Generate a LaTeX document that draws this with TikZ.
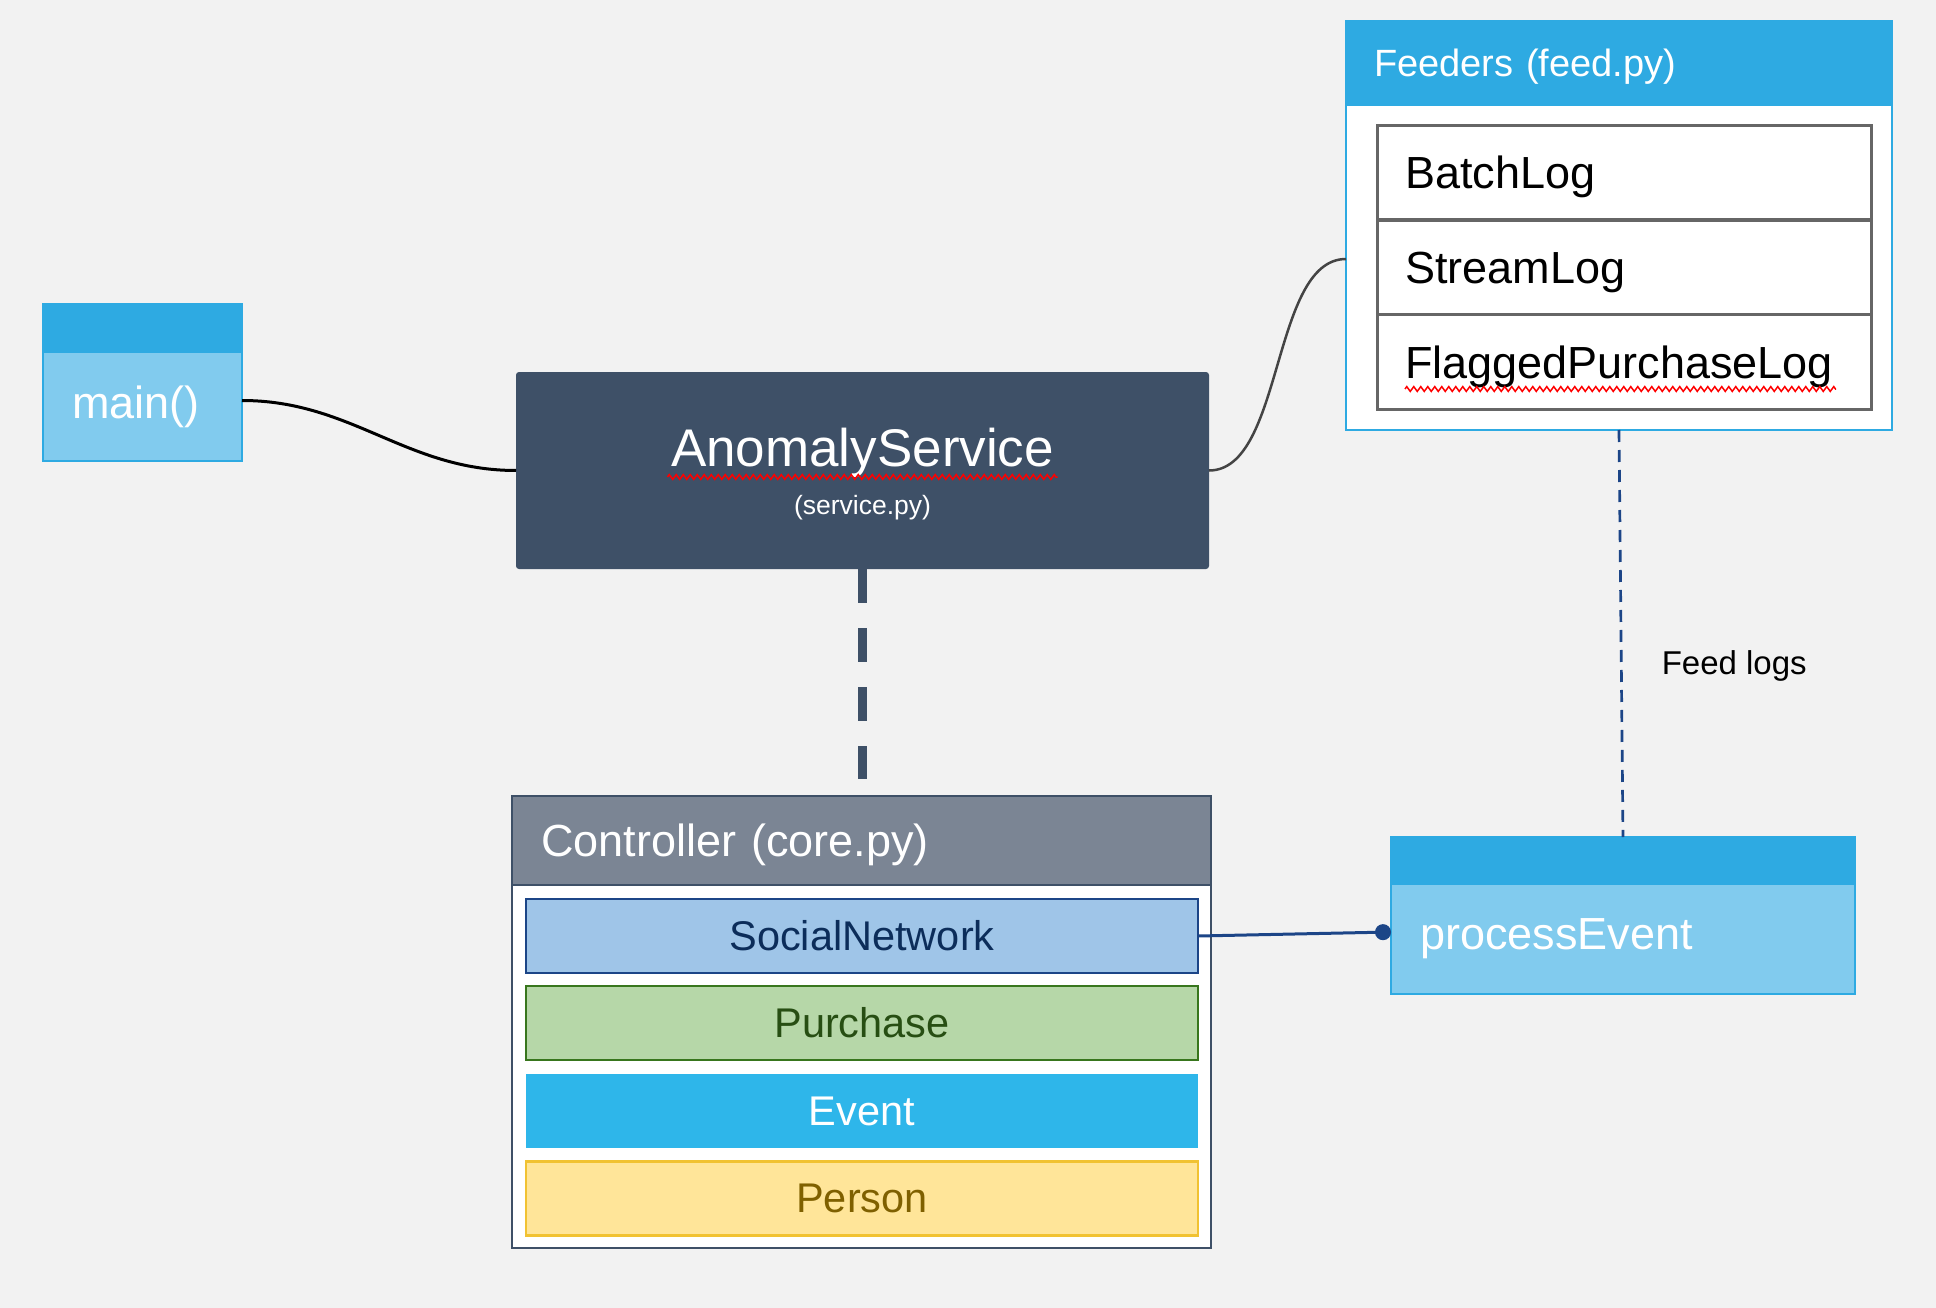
\documentclass[tikz,border=0pt]{standalone}
\usepackage{fontspec}
\setmainfont{Liberation Sans}
\usepackage{xcolor}
\definecolor{back_gray}{RGB}{242,242,242}
\definecolor{slate_blue}{RGB}{62,80,103}
\definecolor{head_gray}{RGB}{123,133,148}
\definecolor{sky_blue}{RGB}{46,170,226}
\definecolor{pale_blue}{RGB}{129,203,238}
\definecolor{event_blue}{RGB}{46,182,234}
\definecolor{soc_fill}{RGB}{159,197,232}
\definecolor{soc_line}{RGB}{28,69,135}
\definecolor{soc_text}{RGB}{12,45,90}
\definecolor{buy_fill}{RGB}{182,215,168}
\definecolor{buy_line}{RGB}{56,118,29}
\definecolor{buy_text}{RGB}{39,78,19}
\definecolor{person_fill}{RGB}{255,229,153}
\definecolor{person_line}{RGB}{241,194,50}
\definecolor{person_text}{RGB}{127,96,0}
\definecolor{row_gray}{RGB}{102,102,102}
\definecolor{curve_gray}{RGB}{68,68,68}
\usepackage{tikz}
\usetikzlibrary{arrows.meta,decorations.pathmorphing}

\tikzset{
  box/.style={rectangle, inner sep=0pt, outer sep=0pt},
  blue_head/.style={box, fill=sky_blue, draw=sky_blue, line width=2pt},
  blue_body/.style={box, fill=pale_blue, draw=sky_blue, line width=2pt, text=white, align=left, inner xsep=29pt, font=\fontsize{45}{54}\selectfont},
  svc_box/.style={box, fill=slate_blue, rounded corners=3pt},
  svc_title/.style={anchor=base, text=white, font=\fontsize{53}{60}\selectfont},
  svc_file/.style={anchor=base, text=white, font=\fontsize{26.5}{30}\selectfont},
  frame/.style={box, fill=white, line width=2.5pt},
  frame_head/.style={box, text=white, align=left, line width=2.5pt, text depth=0pt},
  log_row/.style={box, fill=white, draw=row_gray, line width=3pt, align=left, inner xsep=28pt, text width=438pt, minimum height=94.7pt, font=\fontsize{45}{54}\selectfont, text height=32pt, text depth=0pt},
  item/.style={box, minimum width=672pt, minimum height=74pt, line width=2.5pt, font=\fontsize{41.5}{50}\selectfont},
  spell/.style={draw=red, line width=1.5pt, decorate, decoration={zigzag, segment length=7pt, amplitude=2.4pt}},
  main_link/.style={draw=black, line width=3pt},
  feed_curve/.style={draw=curve_gray, line width=2.5pt},
  thick_dash/.style={draw=slate_blue, line width=8.7pt, dash pattern=on 34pt off 25pt},
  feed_link/.style={draw=soc_line, line width=2.7pt, dash pattern=on 12pt off 8pt},
  feed_note/.style={anchor=base west, xshift=39pt, inner sep=0pt, text=black, font=\fontsize{33}{40}\selectfont},
  dot_link/.style={draw=soc_line, line width=3pt, -{Circle[length=16pt]}}
}

\begin{document}
\begin{tikzpicture}[x=1pt, y=-1pt]
\fill[back_gray] (0, 0) rectangle (1936, 1308);

\node[blue_head, minimum width=199pt, minimum height=48pt] (main_head) at (142.5, 328) {};
\node[blue_body, text width=141pt, minimum height=109pt] (main_body) at (142.5, 406.5) {main()};

\node[svc_box, minimum width=693pt, minimum height=197pt] (svc) at (862.5, 470.5) {};
\node[svc_title] (svc_name) at (862.5, 466) {AnomalyService};
\node[svc_file] (svc_src) at (862.5, 514) {(service.py)};
\draw[spell] ([yshift=-11pt]svc_name.base west) -- ([yshift=-11pt]svc_name.base east);

\node[frame, draw=sky_blue, minimum width=546pt, minimum height=409pt] (feed) at (1619, 225.5) {};
\node[frame_head, fill=sky_blue, draw=sky_blue, text width=490pt, inner xsep=28pt, minimum height=84pt, font=\fontsize{38}{46}\selectfont, text height=27.2pt] (feed_head) at (1619, 63) {Feeders (feed.py)};
\node[log_row] (batch_log) at (1624, 172.5) {BatchLog};
\node[log_row] (stream_log) at (1624, 267.5) {StreamLog};
\node[log_row] (flagged_log) at (1624, 362) {FlaggedPurchaseLog};
\draw[spell] (1405, 389) -- (1836, 389);

\node[frame, draw=slate_blue, minimum width=699pt, minimum height=452pt] (ctrl) at (861.5, 1022) {};
\node[frame_head, fill=head_gray, draw=slate_blue, text width=641pt, inner xsep=29pt, minimum height=89pt, font=\fontsize{45}{54}\selectfont, text height=32pt] (ctrl_head) at (861.5, 840.5) {Controller (core.py)};
\node[item, fill=soc_fill, draw=soc_line, text=soc_text] (social) at (862, 936) {SocialNetwork};
\node[item, fill=buy_fill, draw=buy_line, text=buy_text] (purchase) at (862, 1023) {Purchase};
\node[item, fill=event_blue, text=white] (event) at (862, 1111) {Event};
\node[item, fill=person_fill, draw=person_line, text=person_text] (person) at (862, 1198.5) {Person};

\node[blue_head, minimum width=464pt, minimum height=47pt] (proc_head) at (1623, 860.5) {};
\node[blue_body, text width=406pt, minimum height=110pt] (proc_body) at (1623, 939) {processEvent};

\coordinate (ctrl_gap) at (862.5, 779);
\draw[thick_dash] (svc.south) -- (ctrl_gap);
\draw[main_link] ([yshift=6pt]main_body.east) .. controls +(110, 0) and +(-110, 0) .. (svc.west);
\draw[feed_curve] (svc.east) .. controls +(75, 0) and +(-75, 0) .. ([yshift=-33.5pt]feed.west);
\draw[feed_link] (feed.south) -- node[feed_note, pos=0.6] (feed_note) {Feed logs} (proc_head.north);
\draw[dot_link] (social.east) -- ([yshift=7pt]proc_body.west);

\end{tikzpicture}
\end{document}
